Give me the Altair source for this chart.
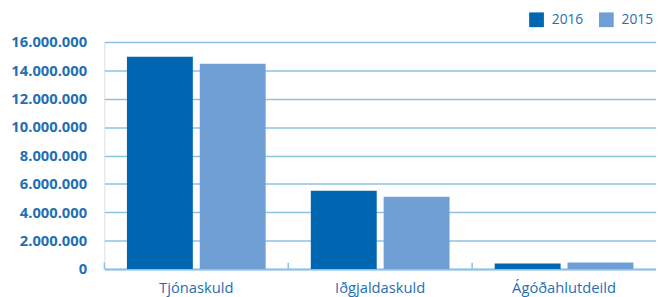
import altair as alt
import pandas as pd

categories = ["Tjónaskuld", "Iðgjaldaskuld", "Ágóðahlutdeild"]
years = ["2016", "2015"]
values_2016 = [14950000, 5520000, 390000]
values_2015 = [14460000, 5100000, 460000]
y_ticks = [0, 2000000, 4000000, 6000000, 8000000, 10000000, 12000000, 14000000, 16000000]

rows = []
for c, a, b in zip(categories, values_2016, values_2015):
    rows.append({"cat": c, "year": "2016", "value": a})
    rows.append({"cat": c, "year": "2015", "value": b})
df = pd.DataFrame(rows)
ticks_df = pd.DataFrame({"cat": categories, "y0": [0] * 3, "y1": [450000] * 3})

blue_text = "#1f6fb4"
grid_c = "#8fc1e3"

x_scale = alt.Scale(domain=categories, paddingInner=0, paddingOuter=0)
y_scale = alt.Scale(domain=[0, 16000000])

x_axis = alt.Axis(labelAngle=0, labelFont="Open Sans", labelFontSize=15,
                  labelColor=blue_text, labelPadding=12, ticks=False,
                  domainColor=grid_c, domainWidth=2)
y_axis = alt.Axis(values=y_ticks, labelFont="Open Sans", labelFontWeight="bold",
                  labelFontSize=15, labelColor=blue_text, labelPadding=18,
                  labelOverlap=False,
                  ticks=False, domain=False, gridColor=grid_c, gridWidth=1.5,
                  labelExpr="replace(replace(format(datum.value, ','), ',', '.'), ',', '.')")

bars = alt.Chart(df).mark_bar().encode(
    x=alt.X("cat:N", scale=x_scale, sort=categories, title=None, axis=x_axis),
    xOffset=alt.XOffset("year:N", sort=years,
                        scale=alt.Scale(domain=years, paddingInner=0.095, paddingOuter=0.31)),
    y=alt.Y("value:Q", scale=y_scale, title=None, axis=y_axis),
    color=alt.Color("year:N", sort=years,
                    scale=alt.Scale(domain=years, range=["#0066b2", "#6f9fd5"]),
                    legend=alt.Legend(title=None, orient="none", legendX=432, legendY=-30,
                                      direction="horizontal", symbolType="square",
                                      symbolSize=225, symbolStrokeWidth=0,
                                      labelFont="Open Sans", labelFontSize=14,
                                      labelColor=blue_text, columnPadding=15,
                                      labelOffset=8)),
)

tick_rules = alt.Chart(ticks_df).mark_rule(color=grid_c, strokeWidth=1.5).encode(
    x=alt.X("cat:N", scale=x_scale, sort=categories, bandPosition=0, title=None, axis=x_axis),
    y=alt.Y("y0:Q", scale=y_scale, title=None, axis=y_axis),
    y2="y1:Q",
)

chart = alt.layer(bars, tick_rules).properties(
    width=561, height=231,
    autosize=alt.AutoSizeParams(type="none"),
    padding={"left": 98, "top": 32, "right": 0, "bottom": 30},
).configure_view(stroke=None).configure(background="white")

chart.save("out.html", embed_options={"renderer": "svg", "actions": False})
